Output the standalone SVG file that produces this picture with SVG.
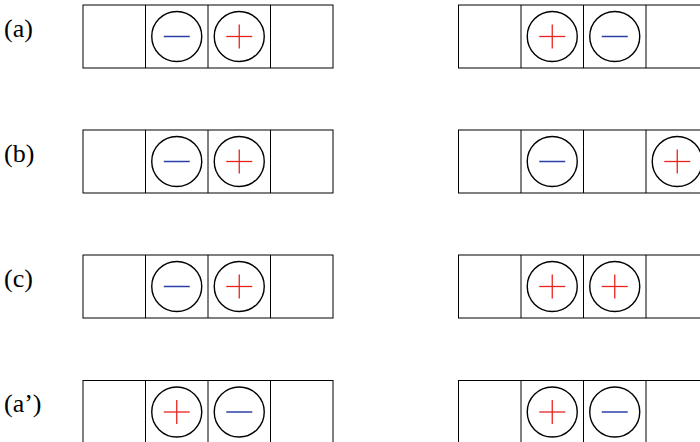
<svg xmlns="http://www.w3.org/2000/svg" width="700" height="442" viewBox="0 0 700 442">
<defs>
<style>
.box{fill:none;stroke:#000;stroke-width:1}
.c{fill:none;stroke:#000;stroke-width:1.4}
.p{stroke:#e8231f;stroke-width:1.3}
.m{stroke:#2b3fa8;stroke-width:1.5}
.lbl{font-family:"Liberation Serif",serif;font-size:26px;fill:#000}
</style>
<g id="cell4">
<rect class="box" x="0" y="0" width="250" height="63"/>
<line class="box" x1="62.5" y1="0" x2="62.5" y2="63"/>
<line class="box" x1="125" y1="0" x2="125" y2="63"/>
<line class="box" x1="187.5" y1="0" x2="187.5" y2="63"/>
</g>
<g id="plus"><circle class="c" cx="0" cy="0" r="25"/><line class="p" x1="-13" y1="0" x2="13" y2="0"/><line class="p" x1="0" y1="-12" x2="0" y2="12"/></g>
<g id="minus"><circle class="c" cx="0" cy="0" r="25"/><line class="m" x1="-13" y1="0" x2="13" y2="0"/></g>
</defs>
<g id="labels">
<text class="lbl" x="4" y="37">(a)</text>
<text class="lbl" x="4" y="162">(b)</text>
<text class="lbl" x="4" y="287">(c)</text>
<text class="lbl" x="4" y="412">(a’)</text>
</g>
<g id="row-a-left"><use href="#cell4" x="83" y="5"/><use href="#minus" x="176.75" y="36.5"/><use href="#plus" x="239.25" y="36.5"/></g>
<g id="row-a-right"><use href="#cell4" x="458.5" y="5"/><use href="#plus" x="552.25" y="36.5"/><use href="#minus" x="614.75" y="36.5"/></g>
<g id="row-b-left"><use href="#cell4" x="83" y="130"/><use href="#minus" x="176.75" y="161.5"/><use href="#plus" x="239.25" y="161.5"/></g>
<g id="row-b-right"><use href="#cell4" x="458.5" y="130"/><use href="#minus" x="552.25" y="161.5"/><use href="#plus" x="677.25" y="161.5"/></g>
<g id="row-c-left"><use href="#cell4" x="83" y="255"/><use href="#minus" x="176.75" y="286.5"/><use href="#plus" x="239.25" y="286.5"/></g>
<g id="row-c-right"><use href="#cell4" x="458.5" y="255"/><use href="#plus" x="552.25" y="286.5"/><use href="#plus" x="614.75" y="286.5"/></g>
<g id="row-a2-left"><use href="#cell4" x="83" y="380.5"/><use href="#plus" x="176.75" y="412"/><use href="#minus" x="239.25" y="412"/></g>
<g id="row-a2-right"><use href="#cell4" x="458.5" y="380.5"/><use href="#plus" x="552.25" y="412"/><use href="#minus" x="614.75" y="412"/></g>
</svg>
